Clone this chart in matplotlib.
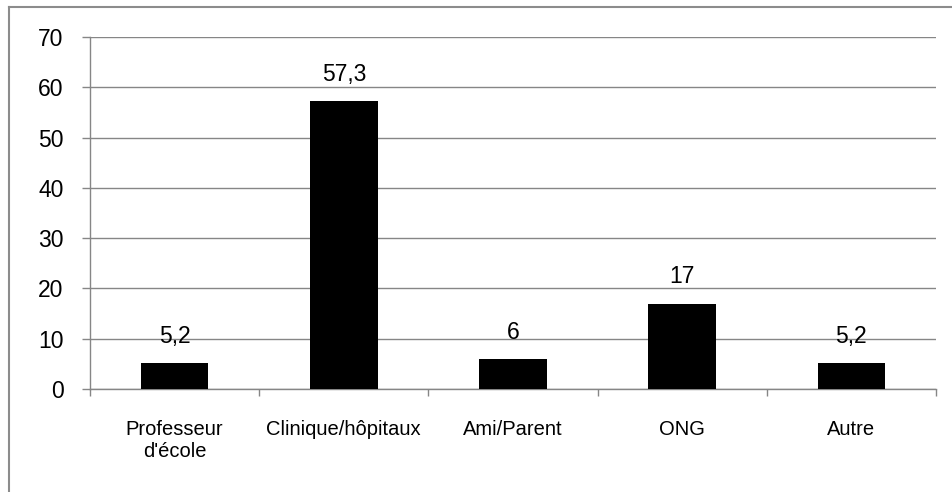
import matplotlib
matplotlib.use("Agg")
import matplotlib.pyplot as plt
from matplotlib.lines import Line2D
import numpy as np

categories = ["Professeur\nd'école", "Clinique/hôpitaux", "Ami/Parent", "ONG", "Autre"]
values = [5.2, 57.3, 6, 17, 5.2]
value_labels = ["5,2", "57,3", "6", "17", "5,2"]
yticks = [0, 10, 20, 30, 40, 50, 60, 70]

plt.rcParams['font.family'] = ['Liberation Sans', 'DejaVu Sans']

fig = plt.figure(figsize=(9.53, 4.92), dpi=100)
ax = fig.add_axes([90/953, 1-389/492, (936-90)/953, (389-37)/492])

x = np.arange(len(categories))
ax.bar(x, values, width=0.4, color='black', zorder=3)
ax.set_xlim(-0.5, len(categories)-0.5)
ax.set_ylim(0, 70)
ax.set_yticks(yticks)
ax.set_yticklabels([str(t) for t in yticks], fontsize=16.5)
ax.yaxis.grid(True, color='#868686', linewidth=1.0, zorder=0)

grey = '#868686'
for s in ['top', 'right']:
    ax.spines[s].set_visible(False)
for s in ['left', 'bottom']:
    ax.spines[s].set_color(grey)
    ax.spines[s].set_linewidth(1.0)

ax.set_xticks(x)
ax.set_xticklabels(categories, fontsize=14.5)
ax.set_xticks(np.arange(len(categories)+1)-0.5, minor=True)
ax.tick_params(axis='x', which='major', length=0, pad=22)
ax.tick_params(axis='x', which='minor', length=5, color=grey, width=1.0)
ax.tick_params(axis='y', length=6, color=grey, width=1.0, pad=13)

for xi, v, lab in zip(x, values, value_labels):
    ax.annotate(lab, (xi, v), xytext=(0, 11), textcoords='offset points',
                ha='center', va='bottom', fontsize=16.5)

# outer chart border (top and left visible)
fig.add_artist(Line2D([9/953, 1], [1-7/492, 1-7/492], transform=fig.transFigure,
                      color='#8c8c8c', linewidth=1.5))
fig.add_artist(Line2D([9/953, 9/953], [0, 1-7/492], transform=fig.transFigure,
                      color='#8c8c8c', linewidth=1.5))

fig.savefig("out.png", dpi=100)
